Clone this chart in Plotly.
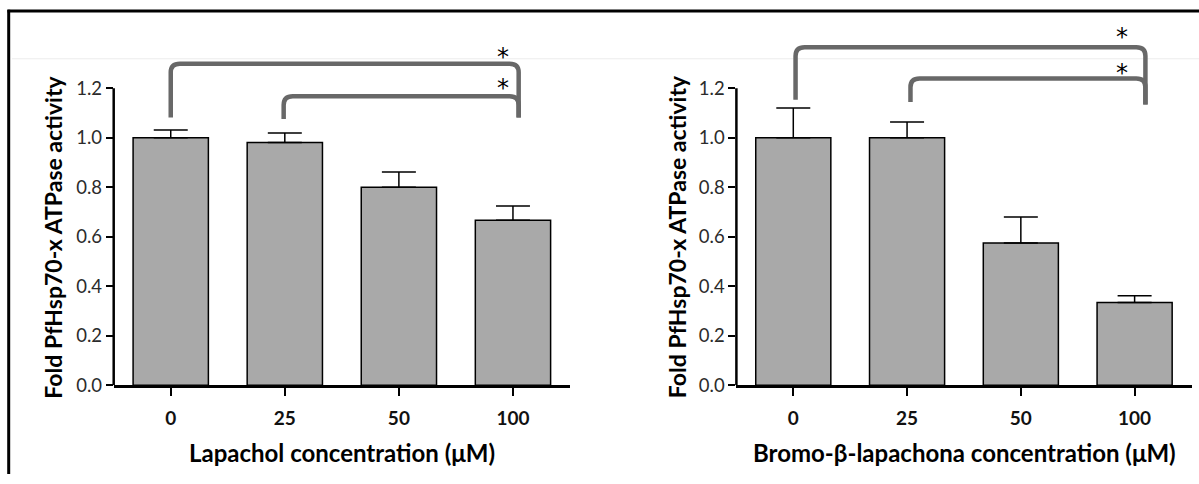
import plotly.graph_objects as go

W, H = 1199, 484

categories = ["0", "25", "50", "100"]
lapachol_mean = [1.00, 0.98, 0.80, 0.666]
lapachol_err = [0.031, 0.039, 0.061, 0.058]
bromo_mean = [1.00, 1.00, 0.574, 0.334]
bromo_err = [0.12, 0.063, 0.105, 0.027]

y_ticks = [0.0, 0.2, 0.4, 0.6, 0.8, 1.0, 1.2]
y_tick_text = ["0.0", "0.2", "0.4", "0.6", "0.8", "1.0", "1.2"]

# brackets: (x_left, y_left_end, x_right, y_right_end, y_top)
lap_brackets = [(0.0, 1.081, 3.05, 1.081, 1.299), (0.99, 1.075, 3.05, 1.081, 1.167)]
bro_brackets = [(0.02, 1.153, 3.095, 1.134, 1.365), (1.03, 1.144, 3.095, 1.134, 1.239)]
lap_stars = [(2.91, 1.351), (2.91, 1.224)]
bro_stars = [(2.89, 1.429), (2.89, 1.287)]

FONT = "Lato"
BAR_COLOR = "#a9a9a9"
BRACKET_COLOR = "#686868"

def px_x(p):
    return p / W

def px_y(p):
    return 1 - p / H

ydom = [px_y(393.3), px_y(26.8)]
xdom1 = [px_x(113.7), px_x(570.0)]
xdom2 = [px_x(736.4), px_x(1191.5)]

fig = go.Figure()
xs = list(range(len(categories)))
for mean, err, xa, ya in [(lapachol_mean, lapachol_err, "x", "y"), (bromo_mean, bromo_err, "x2", "y2")]:
    fig.add_trace(go.Bar(
        x=xs, y=mean, width=0.66, xaxis=xa, yaxis=ya,
        marker=dict(color=BAR_COLOR, line=dict(color="black", width=1.5)),
        error_y=dict(type="data", symmetric=False, array=err, arrayminus=[0] * len(err),
                     color="black", thickness=1.5, width=17),
        showlegend=False, hoverinfo="skip",
    ))

axis_common_x = dict(
    range=[-0.5, 3.5], tickmode="array", tickvals=xs, ticktext=categories,
    showline=True, linecolor="black", linewidth=2.5, ticks="outside", ticklen=8,
    tickwidth=2, tickcolor="black", showgrid=False, zeroline=False, fixedrange=True,
    ticklabelstandoff=6,
    tickfont=dict(family=FONT, size=19, color="#111", weight="bold"),
)
axis_common_y = dict(
    range=[0, 1.45], tickmode="array", tickvals=y_ticks, ticktext=y_tick_text,
    showline=False, ticks="outside", ticklen=7, tickwidth=2, tickcolor="black",
    showgrid=False, zeroline=False, fixedrange=True,
    tickfont=dict(family=FONT, size=18.5, color="#2b2b2b"),
)

fig.update_layout(
    width=W, height=H, margin=dict(l=0, r=0, t=0, b=0),
    paper_bgcolor="white", plot_bgcolor="rgba(0,0,0,0)",
    xaxis=dict(domain=xdom1, anchor="y", **axis_common_x),
    yaxis=dict(domain=ydom, anchor="x", **axis_common_y),
    xaxis2=dict(domain=xdom2, anchor="y2", **axis_common_x),
    yaxis2=dict(domain=ydom, anchor="x2", **axis_common_y),
    bargap=0.34,
)

shapes = []
for xr, yr in [("x", "y"), ("x2", "y2")]:
    shapes.append(dict(type="line", xref=f"{xr} domain", yref=yr, x0=0, x1=0, y0=0, y1=1.2,
                       line=dict(color="black", width=2.5), layer="above"))

def bracket_path(xl, yl, xr, yr, yt, rx=0.08, ry=0.035):
    return (f"M {xl},{yl} L {xl},{yt - ry} Q {xl},{yt} {xl + rx},{yt} "
            f"L {xr - rx},{yt} Q {xr},{yt} {xr},{yt - ry} L {xr},{yr}")

for brs, xr, yr in [(lap_brackets, "x", "y"), (bro_brackets, "x2", "y2")]:
    for (xl, yl, xrr, yrr, yt) in brs:
        shapes.append(dict(type="path", xref=xr, yref=yr, path=bracket_path(xl, yl, xrr, yrr, yt),
                           line=dict(color=BRACKET_COLOR, width=4.5), layer="above"))

shapes.append(dict(type="line", xref="paper", yref="paper", x0=px_x(7.5), x1=1.0,
                   y0=px_y(11.3), y1=px_y(11.3), line=dict(color="black", width=3)))
shapes.append(dict(type="line", xref="paper", yref="paper", x0=px_x(8.7), x1=px_x(8.7),
                   y0=px_y(10), y1=0, line=dict(color="black", width=3)))
shapes.append(dict(type="line", xref="paper", yref="paper", x0=px_x(12), x1=1.0,
                   y0=px_y(60), y1=px_y(60), line=dict(color="#ececec", width=1), layer="below"))
fig.update_layout(shapes=shapes)

ann = []
for stars, xr, yr in [(lap_stars, "x", "y"), (bro_stars, "x2", "y2")]:
    for (sx, sy) in stars:
        ann.append(dict(x=sx, y=sy, xref=xr, yref=yr, text="*", showarrow=False,
                        xanchor="center", yanchor="middle",
                        font=dict(family="DejaVu Sans", size=24, color="black"), yshift=-6))

title_font = dict(family=FONT, size=23, color="black", weight="bold")
ann.append(dict(x=px_x(69), y=0.6, xref="paper", yref="y", text="Fold PfHsp70-x ATPase activity",
                textangle=-90, showarrow=False, xanchor="right", yanchor="middle", font=title_font))
ann.append(dict(x=px_x(692.5), y=0.6, xref="paper", yref="y2", text="Fold PfHsp70-x ATPase activity",
                textangle=-90, showarrow=False, xanchor="right", yanchor="middle", font=title_font))
xt_font = dict(family=FONT, size=24, color="black", weight="bold")
ann.append(dict(x=px_x(341.9), y=px_y(462), xref="paper", yref="paper", text="Lapachol concentration (μM)",
                showarrow=False, xanchor="center", yanchor="middle", font=xt_font))
ann.append(dict(x=px_x(964.5), y=px_y(462), xref="paper", yref="paper",
                text="Bromo-β-lapachona concentration (μM)",
                showarrow=False, xanchor="center", yanchor="middle", font=xt_font))
fig.update_layout(annotations=ann)

fig.write_html("out.html")
